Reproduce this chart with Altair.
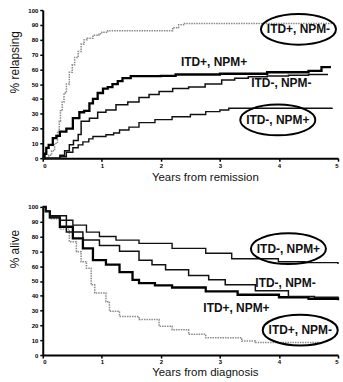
import altair as alt
import pandas as pd

# ---- Top panel: % relapsing vs years from remission ----
rel_groups = ["ITD+, NPM-", "ITD+, NPM+", "ITD-, NPM-", "ITD-, NPM+"]
rel_t = {
    "ITD+, NPM-": [0, 0.1, 0.15, 0.2, 0.25, 0.28, 0.3, 0.33, 0.36, 0.4, 0.45, 0.5, 0.54, 0.6, 0.65, 0.7, 0.75, 0.85, 0.95, 1.0, 1.1, 1.5, 2.2, 2.3, 2.4, 4.9],
    "ITD+, NPM+": [0, 0.03, 0.06, 0.1, 0.17, 0.23, 0.29, 0.4, 0.51, 0.62, 0.7, 0.79, 0.85, 0.93, 1.02, 1.1, 1.18, 1.27, 1.35, 1.49, 2.0, 2.25, 3.0, 3.8, 4.5, 4.72, 4.88],
    "ITD-, NPM-": [0, 0.2, 0.29, 0.37, 0.45, 0.52, 0.6, 0.65, 0.79, 0.93, 1.07, 1.24, 1.44, 1.63, 1.8, 1.97, 2.2, 2.47, 2.75, 3.03, 3.25, 3.48, 3.8, 4.16, 4.5, 4.83],
    "ITD-, NPM+": [0, 0.2, 0.29, 0.4, 0.51, 0.6, 0.68, 0.78, 0.85, 1.07, 1.2, 1.3, 1.46, 1.63, 1.9, 2.19, 2.5, 2.76, 3.0, 3.15, 4.9],
}
rel_v = {
    "ITD+, NPM-": [0, 2, 5, 10, 18, 25, 32, 38, 44, 50, 58, 63, 68, 72, 77, 80, 81, 83, 84, 85, 86, 86, 88, 90, 91, 91],
    "ITD+, NPM+": [0, 3, 7, 9, 13.5, 15, 18, 20, 27, 31, 32, 37, 40, 44, 47, 48, 50, 52, 54, 55.4, 55.6, 56.5, 57, 58, 59, 61.5, 61.5],
    "ITD-, NPM-": [0, 0, 2, 5, 9, 12, 16, 25, 27, 31, 32.5, 36, 38, 41, 43, 45, 47, 48, 50, 52.7, 54, 55, 55.5, 56, 56.5, 56.5],
    "ITD-, NPM+": [0, 0, 1, 4, 7, 9, 11, 13, 14.6, 15.8, 17, 19, 21, 24, 26, 28, 29.5, 31.4, 32.5, 33.7, 34],
}

# ---- Bottom panel: % alive vs years from diagnosis ----
alive_t = {
    "ITD+, NPM-": [0, 0.05, 0.12, 0.29, 0.45, 0.57, 0.65, 0.74, 0.82, 0.88, 0.99, 1.07, 1.13, 1.3, 1.63, 1.97, 2.19, 2.47, 2.76, 3.3, 3.37, 3.6, 4.66],
    "ITD+, NPM+": [0, 0.05, 0.12, 0.29, 0.51, 0.68, 0.85, 1.07, 1.3, 1.52, 1.63, 1.9, 2.19, 2.76, 3.3, 4.0, 4.5, 5.0],
    "ITD-, NPM-": [0, 0.05, 0.12, 0.4, 0.68, 0.96, 1.3, 1.63, 1.85, 2.08, 2.47, 2.81, 3.09, 3.6, 4.16, 4.6, 5.0],
    "ITD-, NPM+": [0, 0.05, 0.12, 0.29, 0.51, 0.74, 0.96, 1.24, 1.63, 2.19, 2.76, 3.2, 3.99, 4.44, 5.0],
}
alive_v = {
    "ITD+, NPM-": [100, 97, 92, 85, 76.5, 69.8, 63, 58.6, 47.4, 41.8, 41.8, 36, 29.5, 26, 24, 19.5, 17, 14, 11.6, 11.6, 9.4, 8.5, 8],
    "ITD+, NPM+": [100, 97, 93, 86.6, 78.7, 72, 64, 61, 56, 50.8, 48.5, 47, 45.6, 43, 40.7, 39, 38, 37],
    "ITD-, NPM-": [100, 97, 94, 83, 77.6, 74, 70, 64, 61, 57.5, 53.7, 50.8, 47.4, 43.4, 39.6, 39, 38],
    "ITD-, NPM+": [100, 97, 93, 91, 87.7, 83, 80, 77.6, 75.4, 72, 68.7, 65, 63, 62.4, 61.5],
}

# annotation labels (x in years, y in %)
rel_labels = ["ITD+, NPM-", "ITD+, NPM+", "ITD-, NPM-", "ITD-, NPM+"]
rel_lab_x = [4.33, 2.9, 4.04, 3.98]
rel_lab_y = [87, 64.8, 50.7, 25.8]
rel_circled = [True, False, False, True]

alive_labels = ["ITD-, NPM+", "ITD-, NPM-", "ITD+, NPM+", "ITD+, NPM-"]
alive_lab_x = [4.16, 4.11, 3.28, 4.36]
alive_lab_y = [71.8, 48.3, 31.5, 16.8]
alive_circled = [True, False, False, True]

styles = {
    "ITD+, NPM-": dict(color="#8a8a8a", strokeWidth=1.5, strokeDash=[1.5, 1]),
    "ITD+, NPM+": dict(color="#000000", strokeWidth=2.3),
    "ITD-, NPM-": dict(color="#111111", strokeWidth=1.5),
    "ITD-, NPM+": dict(color="#111111", strokeWidth=1.4),
}

ELLIPSE = "M -1 0 A 1 0.41 0 1 1 1 0 A 1 0.41 0 1 1 -1 0 Z"


def panel(tdict, vdict, labs, lx, ly, circ, ytitle, xtitle, ytitle_y, xtitle_y):
    xs = alt.Scale(domain=[0, 5], nice=False)
    ys = alt.Scale(domain=[0, 100], nice=False)
    xaxis = alt.Axis(values=[0, 1, 2, 3, 4, 5], format="d", title=xtitle,
                     labelFontSize=6, labelFontWeight="bold", labelPadding=1,
                     tickSize=3, tickWidth=1.5, domainWidth=2, domainColor="black",
                     tickColor="black", labelColor="black", titleFontSize=11.5,
                     titleFontWeight="normal", titleColor="#111", titleFont="Liberation Sans",
                     titleX=163, titleY=xtitle_y, titleBaseline="middle", grid=False)
    yaxis = alt.Axis(values=list(range(0, 101, 10)), title=ytitle,
                     labelFontSize=6, labelFontWeight="bold", labelPadding=2,
                     tickSize=3, tickWidth=1.5, domainWidth=2, domainColor="black",
                     tickColor="black", labelColor="black", titleFontSize=12,
                     titleFontWeight="normal", titleColor="#111", titleFont="Liberation Sans",
                     titleX=-28, titleY=ytitle_y, titleBaseline="middle", grid=False)
    X = lambda f: alt.X(f, scale=xs, axis=xaxis, title=xtitle)
    Y = lambda f: alt.Y(f, scale=ys, axis=yaxis, title=ytitle)
    layers = []
    for g in rel_groups:
        df = pd.DataFrame({"t": tdict[g], "v": vdict[g]})
        st = styles[g]
        kw = dict(interpolate="step-after", color=st["color"], strokeWidth=st["strokeWidth"])
        if "strokeDash" in st:
            kw["strokeDash"] = st["strokeDash"]
        layers.append(alt.Chart(df).mark_line(**kw).encode(x=X("t:Q"), y=Y("v:Q")))
    lab = pd.DataFrame({"label": labs, "x": lx, "y": ly, "c": circ})
    layers.append(alt.Chart(lab).transform_filter("datum.c").mark_point(
        shape=ELLIPSE, size=5700, filled=False, stroke="black", strokeWidth=2, opacity=1
    ).encode(x=X("x:Q"), y=Y("y:Q")))
    layers.append(alt.Chart(lab).mark_text(
        font="Liberation Sans", fontSize=12, fontWeight="bold", color="#111", align="center", baseline="middle"
    ).encode(x=X("x:Q"), y=Y("y:Q"), text="label:N"))
    return alt.layer(*layers).properties(width=297, height=149)


top = panel(rel_t, rel_v, rel_labels, rel_lab_x, rel_lab_y, rel_circled,
            "% relapsing", "Years from remission", 52, 19)
bottom = panel(alive_t, alive_v, alive_labels, alive_lab_x, alive_lab_y, alive_circled,
               "% alive", "Years from diagnosis", 42, 18)

chart = alt.vconcat(top, bottom, spacing=19).properties(
    padding={"left": 8, "top": 6, "right": 0, "bottom": 0},
    background="white",
).configure_view(stroke=None)

chart.save("out.html", embed_options={"renderer": "svg", "actions": False})
